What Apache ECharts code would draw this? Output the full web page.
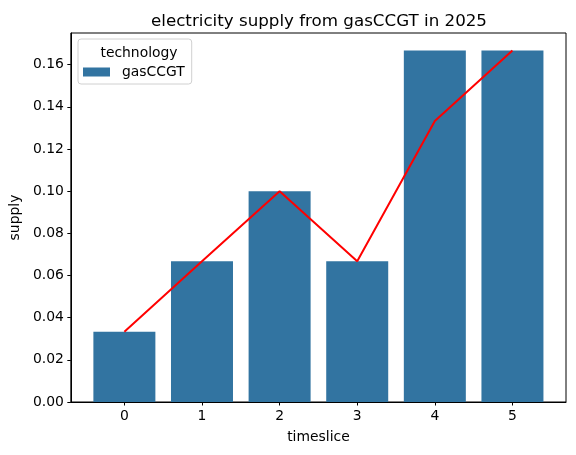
<!DOCTYPE html>
<html>
<head>
<meta charset="utf-8">
<script src="https://cdn.jsdelivr.net/npm/echarts@6/dist/echarts.min.js"></script>
<style>
  html, body { margin: 0; padding: 0; background: #fff; }
  #chart { width: 576px; height: 455px; }
</style>
</head>
<body>
<div id="chart"></div>
<script>
// data
const timeslices = ['0', '1', '2', '3', '4', '5'];
const barSupply = [0.0333, 0.0667, 0.1, 0.0667, 0.1667, 0.1667];
const lineSupply = [0.0333, 0.0667, 0.1, 0.0667, 0.1333, 0.1667];
const yTicks = [0, 0.02, 0.04, 0.06, 0.08, 0.10, 0.12, 0.14, 0.16];
const xTicks = [0, 1, 2, 3, 4, 5];

const font = 'DejaVu Sans';
const fs = 13.9;

var chart = echarts.init(document.getElementById('chart'));

const option = {
  animation: false,
  textStyle: { fontFamily: font },
  title: [
    {
      text: 'electricity supply from gasCCGT in 2025',
      left: 314,
      top: 8,
      textAlign: 'center',
      textStyle: { fontFamily: font, fontSize: 16.7, fontWeight: 'normal', color: '#000' }
    },
    {
      text: 'technology',
      left: 134,
      top: 41,
      textAlign: 'center',
      textStyle: { fontFamily: font, fontSize: fs, fontWeight: 'normal', color: '#000' }
    }
  ],
  legend: {
    left: 78,
    top: 39,
    orient: 'vertical',
    // patch 27x9 plus empty room so the label sits further right
    data: [{ name: 'gasCCGT', icon: 'path://M0,0L27,0L27,9L0,9Z M34,0L34,9' }],
    itemWidth: 34,
    itemHeight: 9,
    padding: [26, 7, 5, 5],
    borderColor: '#d0d0d0',
    borderWidth: 1,
    borderRadius: 3,
    textStyle: { fontFamily: font, fontSize: fs, color: '#000' }
  },
  grid: {
    left: 70,
    right: 10,
    top: 33,
    bottom: 53,
    show: true,
    borderColor: '#000',
    borderWidth: 1
  },
  xAxis: {
    type: 'value',
    min: -0.69,
    max: 5.69,
    name: 'timeslice',
    nameLocation: 'middle',
    nameGap: 28,
    nameTextStyle: { fontFamily: font, fontSize: fs, color: '#000' },
    axisLine: { show: true, onZero: false, lineStyle: { color: '#000', width: 1 } },
    axisTick: { show: true, inside: false, length: 3.5, lineStyle: { color: '#000' }, customValues: xTicks },
    axisLabel: {
      color: '#000', fontSize: fs, fontFamily: font, margin: 7,
      customValues: xTicks,
      formatter: v => timeslices[Math.round(v)]
    },
    splitLine: { show: false }
  },
  yAxis: {
    type: 'value',
    min: 0,
    max: 0.175,
    name: 'supply',
    nameLocation: 'middle',
    nameGap: 41,
    nameTextStyle: { fontFamily: font, fontSize: fs, color: '#000' },
    axisLine: { show: true, onZero: false, lineStyle: { color: '#000', width: 1 } },
    axisTick: { show: true, inside: false, length: 3.5, lineStyle: { color: '#000' }, customValues: yTicks },
    axisLabel: {
      color: '#000', fontSize: fs, fontFamily: font, margin: 7,
      customValues: yTicks,
      formatter: v => v.toFixed(2)
    },
    splitLine: { show: false }
  },
  series: [
    {
      name: 'gasCCGT',
      type: 'bar',
      barWidth: 62,
      itemStyle: { color: '#3274a1' },
      data: barSupply.map((v, i) => [i, v])
    },
    {
      name: 'line',
      type: 'line',
      showSymbol: false,
      lineStyle: { color: '#ff0000', width: 2 },
      itemStyle: { color: '#ff0000' },
      data: lineSupply.map((v, i) => [i, v]),
      z: 3
    }
  ]
};

chart.setOption(option);
</script>
</body>
</html>
